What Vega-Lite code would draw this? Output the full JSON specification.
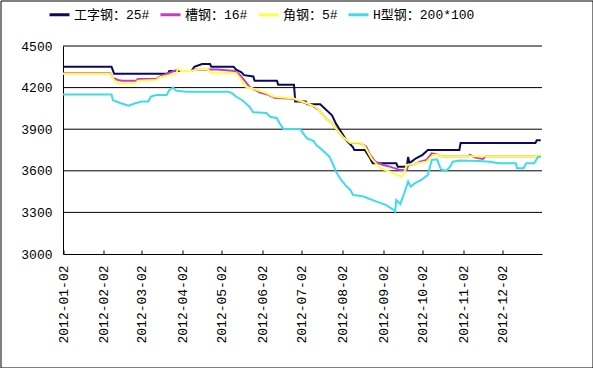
{
  "$schema": "https://vega.github.io/schema/vega-lite/v6.json",
  "width": 592,
  "height": 367,
  "autosize": {"type": "none"},
  "padding": 0.5,
  "background": "white",
  "config": {
    "view": {"stroke": "black", "strokeWidth": 1},
    "axis": {"labelColor": "black", "domainColor": "black", "gridColor": "black", "tickColor": "black", "labelFont": "Liberation Mono", "labelFontSize": 13, "title": null}
  },
  "layer": [
    {
      "data": {"values": [{"g": 3300}, {"g": 3600}, {"g": 3900}, {"g": 4200}, {"g": 4500}]},
      "mark": {"type": "rule", "color": "black", "strokeWidth": 1},
      "encoding": {
        "y": {"field": "g", "type": "quantitative"},
        "x": {"datum": {"year": 2012, "month": 1, "date": 2, "utc": true}, "type": "temporal"},
        "x2": {"datum": {"year": 2013, "month": 1, "date": 1, "utc": true}}
      }
    },
    {
      "data": {"values": [
    {"d":"2012-01-02","s":"工字钢：25#","v":4350},{"d":"2012-02-08","s":"工字钢：25#","v":4350},{"d":"2012-02-10","s":"工字钢：25#","v":4300},{"d":"2012-03-22","s":"工字钢：25#","v":4300},{"d":"2012-03-23","s":"工字钢：25#","v":4320},{"d":"2012-04-09","s":"工字钢：25#","v":4320},{"d":"2012-04-11","s":"工字钢：25#","v":4350},{"d":"2012-04-17","s":"工字钢：25#","v":4370},{"d":"2012-04-23","s":"工字钢：25#","v":4370},{"d":"2012-04-24","s":"工字钢：25#","v":4350},{"d":"2012-05-11","s":"工字钢：25#","v":4350},{"d":"2012-05-13","s":"工字钢：25#","v":4330},{"d":"2012-05-17","s":"工字钢：25#","v":4310},{"d":"2012-05-19","s":"工字钢：25#","v":4290},{"d":"2012-05-26","s":"工字钢：25#","v":4280},{"d":"2012-05-27","s":"工字钢：25#","v":4250},{"d":"2012-06-13","s":"工字钢：25#","v":4250},{"d":"2012-06-14","s":"工字钢：25#","v":4220},{"d":"2012-06-26","s":"工字钢：25#","v":4220},{"d":"2012-06-27","s":"工字钢：25#","v":4100},{"d":"2012-07-05","s":"工字钢：25#","v":4100},{"d":"2012-07-06","s":"工字钢：25#","v":4080},{"d":"2012-07-16","s":"工字钢：25#","v":4080},{"d":"2012-07-25","s":"工字钢：25#","v":4000},{"d":"2012-07-28","s":"工字钢：25#","v":3940},{"d":"2012-08-01","s":"工字钢：25#","v":3880},{"d":"2012-08-05","s":"工字钢：25#","v":3820},{"d":"2012-08-10","s":"工字钢：25#","v":3770},{"d":"2012-08-11","s":"工字钢：25#","v":3750},{"d":"2012-08-19","s":"工字钢：25#","v":3750},{"d":"2012-08-23","s":"工字钢：25#","v":3690},{"d":"2012-08-25","s":"工字钢：25#","v":3655},{"d":"2012-09-12","s":"工字钢：25#","v":3655},{"d":"2012-09-13","s":"工字钢：25#","v":3630},{"d":"2012-09-20","s":"工字钢：25#","v":3630},{"d":"2012-09-21","s":"工字钢：25#","v":3700},{"d":"2012-09-22","s":"工字钢：25#","v":3655},{"d":"2012-09-27","s":"工字钢：25#","v":3690},{"d":"2012-10-02","s":"工字钢：25#","v":3715},{"d":"2012-10-06","s":"工字钢：25#","v":3750},{"d":"2012-10-30","s":"工字钢：25#","v":3750},{"d":"2012-10-31","s":"工字钢：25#","v":3800},{"d":"2012-12-27","s":"工字钢：25#","v":3800},{"d":"2012-12-28","s":"工字钢：25#","v":3820},{"d":"2012-12-31","s":"工字钢：25#","v":3820},
    {"d":"2012-01-02","s":"槽钢：16#","v":4304},{"d":"2012-02-07","s":"槽钢：16#","v":4304},{"d":"2012-02-09","s":"槽钢：16#","v":4270},{"d":"2012-02-13","s":"槽钢：16#","v":4255},{"d":"2012-02-16","s":"槽钢：16#","v":4250},{"d":"2012-02-27","s":"槽钢：16#","v":4250},{"d":"2012-02-28","s":"槽钢：16#","v":4262},{"d":"2012-03-13","s":"槽钢：16#","v":4262},{"d":"2012-03-16","s":"槽钢：16#","v":4280},{"d":"2012-03-28","s":"槽钢：16#","v":4325},{"d":"2012-04-01","s":"槽钢：16#","v":4320},{"d":"2012-04-09","s":"槽钢：16#","v":4320},{"d":"2012-04-11","s":"槽钢：16#","v":4330},{"d":"2012-04-29","s":"槽钢：16#","v":4330},{"d":"2012-05-12","s":"槽钢：16#","v":4320},{"d":"2012-05-16","s":"槽钢：16#","v":4290},{"d":"2012-05-20","s":"槽钢：16#","v":4243},{"d":"2012-05-23","s":"槽钢：16#","v":4207},{"d":"2012-05-31","s":"槽钢：16#","v":4165},{"d":"2012-06-06","s":"槽钢：16#","v":4150},{"d":"2012-06-11","s":"槽钢：16#","v":4127},{"d":"2012-06-25","s":"槽钢：16#","v":4120},{"d":"2012-07-09","s":"槽钢：16#","v":4075},{"d":"2012-07-15","s":"槽钢：16#","v":4040},{"d":"2012-07-20","s":"槽钢：16#","v":3980},{"d":"2012-07-25","s":"槽钢：16#","v":3943},{"d":"2012-07-29","s":"槽钢：16#","v":3894},{"d":"2012-08-02","s":"槽钢：16#","v":3846},{"d":"2012-08-08","s":"槽钢：16#","v":3800},{"d":"2012-08-15","s":"槽钢：16#","v":3800},{"d":"2012-08-20","s":"槽钢：16#","v":3775},{"d":"2012-08-23","s":"槽钢：16#","v":3715},{"d":"2012-08-27","s":"槽钢：16#","v":3666},{"d":"2012-09-02","s":"槽钢：16#","v":3642},{"d":"2012-09-07","s":"槽钢：16#","v":3630},{"d":"2012-09-15","s":"槽钢：16#","v":3605},{"d":"2012-09-20","s":"槽钢：16#","v":3605},{"d":"2012-09-21","s":"槽钢：16#","v":3640},{"d":"2012-09-28","s":"槽钢：16#","v":3655},{"d":"2012-09-30","s":"槽钢：16#","v":3666},{"d":"2012-10-05","s":"槽钢：16#","v":3678},{"d":"2012-10-09","s":"槽钢：16#","v":3726},{"d":"2012-10-14","s":"槽钢：16#","v":3714},{"d":"2012-10-16","s":"槽钢：16#","v":3705},{"d":"2012-11-06","s":"槽钢：16#","v":3705},{"d":"2012-11-07","s":"槽钢：16#","v":3715},{"d":"2012-11-11","s":"槽钢：16#","v":3695},{"d":"2012-11-17","s":"槽钢：16#","v":3685},{"d":"2012-11-19","s":"槽钢：16#","v":3705},{"d":"2012-12-31","s":"槽钢：16#","v":3705},
    {"d":"2012-01-02","s":"角钢：5#","v":4300},{"d":"2012-02-07","s":"角钢：5#","v":4300},{"d":"2012-02-10","s":"角钢：5#","v":4255},{"d":"2012-02-13","s":"角钢：5#","v":4230},{"d":"2012-02-26","s":"角钢：5#","v":4230},{"d":"2012-02-28","s":"角钢：5#","v":4250},{"d":"2012-03-13","s":"角钢：5#","v":4255},{"d":"2012-03-16","s":"角钢：5#","v":4275},{"d":"2012-03-28","s":"角钢：5#","v":4300},{"d":"2012-03-30","s":"角钢：5#","v":4340},{"d":"2012-04-01","s":"角钢：5#","v":4320},{"d":"2012-04-09","s":"角钢：5#","v":4320},{"d":"2012-04-15","s":"角钢：5#","v":4335},{"d":"2012-04-21","s":"角钢：5#","v":4335},{"d":"2012-04-24","s":"角钢：5#","v":4303},{"d":"2012-05-13","s":"角钢：5#","v":4303},{"d":"2012-05-16","s":"角钢：5#","v":4267},{"d":"2012-05-18","s":"角钢：5#","v":4231},{"d":"2012-05-20","s":"角钢：5#","v":4207},{"d":"2012-05-25","s":"角钢：5#","v":4195},{"d":"2012-05-29","s":"角钢：5#","v":4183},{"d":"2012-06-05","s":"角钢：5#","v":4160},{"d":"2012-06-10","s":"角钢：5#","v":4135},{"d":"2012-06-26","s":"角钢：5#","v":4122},{"d":"2012-06-29","s":"角钢：5#","v":4110},{"d":"2012-07-06","s":"角钢：5#","v":4087},{"d":"2012-07-12","s":"角钢：5#","v":4063},{"d":"2012-07-15","s":"角钢：5#","v":4040},{"d":"2012-07-20","s":"角钢：5#","v":3980},{"d":"2012-07-25","s":"角钢：5#","v":3943},{"d":"2012-07-29","s":"角钢：5#","v":3894},{"d":"2012-08-02","s":"角钢：5#","v":3846},{"d":"2012-08-08","s":"角钢：5#","v":3803},{"d":"2012-08-15","s":"角钢：5#","v":3803},{"d":"2012-08-19","s":"角钢：5#","v":3775},{"d":"2012-08-24","s":"角钢：5#","v":3690},{"d":"2012-08-31","s":"角钢：5#","v":3618},{"d":"2012-09-07","s":"角钢：5#","v":3594},{"d":"2012-09-16","s":"角钢：5#","v":3558},{"d":"2012-09-17","s":"角钢：5#","v":3562},{"d":"2012-09-20","s":"角钢：5#","v":3642},{"d":"2012-09-28","s":"角钢：5#","v":3654},{"d":"2012-10-05","s":"角钢：5#","v":3666},{"d":"2012-10-10","s":"角钢：5#","v":3714},{"d":"2012-10-14","s":"角钢：5#","v":3714},{"d":"2012-10-16","s":"角钢：5#","v":3705},{"d":"2012-12-27","s":"角钢：5#","v":3705},{"d":"2012-12-29","s":"角钢：5#","v":3712},{"d":"2012-12-31","s":"角钢：5#","v":3712},
    {"d":"2012-01-02","s":"H型钢：200*100","v":4150},{"d":"2012-02-08","s":"H型钢：200*100","v":4150},{"d":"2012-02-09","s":"H型钢：200*100","v":4110},{"d":"2012-02-15","s":"H型钢：200*100","v":4087},{"d":"2012-02-21","s":"H型钢：200*100","v":4070},{"d":"2012-02-26","s":"H型钢：200*100","v":4087},{"d":"2012-03-02","s":"H型钢：200*100","v":4100},{"d":"2012-03-07","s":"H型钢：200*100","v":4100},{"d":"2012-03-09","s":"H型钢：200*100","v":4135},{"d":"2012-03-13","s":"H型钢：200*100","v":4147},{"d":"2012-03-21","s":"H型钢：200*100","v":4147},{"d":"2012-03-23","s":"H型钢：200*100","v":4183},{"d":"2012-03-26","s":"H型钢：200*100","v":4200},{"d":"2012-03-28","s":"H型钢：200*100","v":4178},{"d":"2012-04-05","s":"H型钢：200*100","v":4170},{"d":"2012-05-07","s":"H型钢：200*100","v":4170},{"d":"2012-05-10","s":"H型钢：200*100","v":4159},{"d":"2012-05-13","s":"H型钢：200*100","v":4134},{"d":"2012-05-18","s":"H型钢：200*100","v":4107},{"d":"2012-05-23","s":"H型钢：200*100","v":4062},{"d":"2012-05-26","s":"H型钢：200*100","v":4022},{"d":"2012-06-05","s":"H型钢：200*100","v":4017},{"d":"2012-06-08","s":"H型钢：200*100","v":3990},{"d":"2012-06-13","s":"H型钢：200*100","v":3979},{"d":"2012-06-15","s":"H型钢：200*100","v":3943},{"d":"2012-06-18","s":"H型钢：200*100","v":3901},{"d":"2012-07-01","s":"H型钢：200*100","v":3899},{"d":"2012-07-03","s":"H型钢：200*100","v":3870},{"d":"2012-07-06","s":"H型钢：200*100","v":3834},{"d":"2012-07-11","s":"H型钢：200*100","v":3815},{"d":"2012-07-13","s":"H型钢：200*100","v":3786},{"d":"2012-07-16","s":"H型钢：200*100","v":3762},{"d":"2012-07-19","s":"H型钢：200*100","v":3738},{"d":"2012-07-23","s":"H型钢：200*100","v":3702},{"d":"2012-07-26","s":"H型钢：200*100","v":3642},{"d":"2012-07-28","s":"H型钢：200*100","v":3594},{"d":"2012-07-31","s":"H型钢：200*100","v":3546},{"d":"2012-08-04","s":"H型钢：200*100","v":3498},{"d":"2012-08-08","s":"H型钢：200*100","v":3462},{"d":"2012-08-10","s":"H型钢：200*100","v":3426},{"d":"2012-08-18","s":"H型钢：200*100","v":3414},{"d":"2012-08-28","s":"H型钢：200*100","v":3378},{"d":"2012-09-04","s":"H型钢：200*100","v":3354},{"d":"2012-09-10","s":"H型钢：200*100","v":3318},{"d":"2012-09-11","s":"H型钢：200*100","v":3306},{"d":"2012-09-12","s":"H型钢：200*100","v":3390},{"d":"2012-09-15","s":"H型钢：200*100","v":3360},{"d":"2012-09-18","s":"H型钢：200*100","v":3438},{"d":"2012-09-21","s":"H型钢：200*100","v":3522},{"d":"2012-09-23","s":"H型钢：200*100","v":3486},{"d":"2012-09-26","s":"H型钢：200*100","v":3510},{"d":"2012-10-01","s":"H型钢：200*100","v":3534},{"d":"2012-10-06","s":"H型钢：200*100","v":3570},{"d":"2012-10-09","s":"H型钢：200*100","v":3678},{"d":"2012-10-13","s":"H型钢：200*100","v":3683},{"d":"2012-10-16","s":"H型钢：200*100","v":3610},{"d":"2012-10-20","s":"H型钢：200*100","v":3600},{"d":"2012-10-23","s":"H型钢：200*100","v":3630},{"d":"2012-10-25","s":"H型钢：200*100","v":3666},{"d":"2012-10-30","s":"H型钢：200*100","v":3675},{"d":"2012-11-14","s":"H型钢：200*100","v":3670},{"d":"2012-11-22","s":"H型钢：200*100","v":3666},{"d":"2012-11-29","s":"H型钢：200*100","v":3654},{"d":"2012-12-12","s":"H型钢：200*100","v":3654},{"d":"2012-12-13","s":"H型钢：200*100","v":3618},{"d":"2012-12-18","s":"H型钢：200*100","v":3618},{"d":"2012-12-20","s":"H型钢：200*100","v":3654},{"d":"2012-12-26","s":"H型钢：200*100","v":3654},{"d":"2012-12-29","s":"H型钢：200*100","v":3700},{"d":"2012-12-31","s":"H型钢：200*100","v":3702}
      ]},
      "mark": {"type": "line", "strokeWidth": 2, "strokeJoin": "miter"},
      "encoding": {
        "x": {
          "field": "d", "type": "temporal",
          "scale": {"type": "utc", "domain": [{"year": 2012, "month": 1, "date": 2, "utc": true}, {"year": 2013, "month": 1, "date": 1, "utc": true}], "range": [62.5, 541.5]},
          "axis": {
            "values": [
              {"year": 2012, "month": 1, "date": 2, "utc": true}, {"year": 2012, "month": 2, "date": 2, "utc": true}, {"year": 2012, "month": 3, "date": 2, "utc": true}, {"year": 2012, "month": 4, "date": 2, "utc": true}, {"year": 2012, "month": 5, "date": 2, "utc": true}, {"year": 2012, "month": 6, "date": 2, "utc": true}, {"year": 2012, "month": 7, "date": 2, "utc": true}, {"year": 2012, "month": 8, "date": 2, "utc": true}, {"year": 2012, "month": 9, "date": 2, "utc": true}, {"year": 2012, "month": 10, "date": 2, "utc": true}, {"year": 2012, "month": 11, "date": 2, "utc": true}, {"year": 2012, "month": 12, "date": 2, "utc": true}
            ],
            "labelExpr": "utcFormat(datum.value, '%Y-%m-%d')", "labelAngle": -90, "grid": false, "offset": -113.5,
            "tickSize": -4, "labelPadding": 15, "labelFlush": false, "labelOverlap": false
          }
        },
        "y": {
          "field": "v", "type": "quantitative",
          "scale": {"domain": [3000, 4500], "nice": false, "zero": false, "range": [253.5, 45.5]},
          "axis": {"values": [3000, 3300, 3600, 3900, 4200, 4500], "format": "d", "ticks": false, "labelPadding": 11, "grid": false, "offset": -62.5}
        },
        "color": {
          "field": "s", "type": "nominal",
          "scale": {"domain": ["工字钢：25#", "槽钢：16#", "角钢：5#", "H型钢：200*100"], "range": ["#0a0a5e", "#c63cc6", "#ffff44", "#3cdcec"]},
          "legend": {
            "title": null, "orient": "none", "legendX": 47.5, "legendY": 2.5, "direction": "horizontal", "columns": 4,
            "symbolType": "stroke", "symbolSize": 400, "symbolStrokeWidth": 3, "labelFontSize": 13,
            "labelFont": "Liberation Mono, Noto Sans CJK SC", "labelColor": "black", "columnPadding": 4, "labelOffset": 3, "padding": 0, "labelLimit": 200
          }
        }
      }
    }
  ]
}
